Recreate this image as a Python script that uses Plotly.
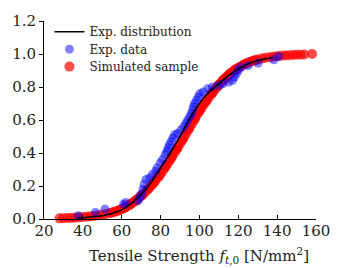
import plotly.graph_objects as go

# Exp. distribution (CDF)
dist_x = [37, 40, 45, 50, 55, 60, 65, 70, 75, 80, 85, 90, 95, 100, 105, 110, 115, 120, 125, 130, 135, 138]
dist_y = [0.005, 0.008, 0.013, 0.02, 0.033, 0.055, 0.095, 0.15, 0.22, 0.31, 0.40, 0.50, 0.61, 0.70, 0.77, 0.82, 0.87, 0.91, 0.94, 0.96, 0.973, 0.978]

# Exp. data (empirical CDF)
exp_x = [37.6, 46.5, 51.4, 61, 62, 68.5, 69.3, 70.2, 70.9, 71.5, 72.5, 74.5, 75.8, 77.5, 78.2, 79.8, 81, 82.3,
         83.2, 83.9, 84.5, 85.5, 86.3, 87.2, 88.8, 90.5, 92, 93, 94, 95, 95.8, 96.5, 96.9, 97.5, 98.5, 99.4,
         100.2, 102, 104.2, 106.7, 110, 112, 115, 117, 118, 119, 120, 121.3, 125, 130.2, 138.3, 140.8]
exp_y = [0.02, 0.04, 0.06, 0.09, 0.10, 0.11, 0.13, 0.15, 0.18, 0.21, 0.24, 0.25, 0.27, 0.29, 0.31, 0.34, 0.36, 0.39,
         0.41, 0.43, 0.45, 0.47, 0.49, 0.51, 0.52, 0.54, 0.56, 0.58, 0.60, 0.62, 0.64, 0.66, 0.68, 0.70, 0.72, 0.74,
         0.76, 0.77, 0.79, 0.80, 0.81, 0.82, 0.83, 0.84, 0.86, 0.88, 0.90, 0.92, 0.93, 0.945, 0.965, 0.985]

# Simulated sample (empirical CDF)
sim_x = [28, 30, 32, 34, 36, 38, 40, 42, 44, 46, 48, 50, 52, 54, 55, 56, 57, 58, 59, 60, 61, 61.5, 62, 63, 64,
         64.5, 65, 66, 67, 67.5, 68, 69, 70, 70.5, 71, 72, 73, 73.5, 74, 75, 76, 76.5, 77, 78, 79, 79.5, 80, 81,
         82, 82.5, 83, 84, 85, 85.5, 86, 87, 88, 88.5, 89, 90, 91, 91.5, 92, 93, 94, 94.5, 95, 96, 97, 97.5, 98,
         99, 100, 100.5, 101, 102, 103, 103.5, 104, 105, 106, 106.5, 107, 108, 109, 109.5, 110, 111, 112, 112.5,
         113, 114, 115, 115.5, 116, 117, 118, 118.5, 119, 120, 121, 122, 123, 124, 125, 126, 127, 128, 129, 130,
         132, 134, 136, 138, 140, 142, 144, 146, 148, 150, 152, 154, 158]
sim_y = [0.004, 0.005, 0.006, 0.007, 0.008, 0.010, 0.012, 0.014, 0.016, 0.019, 0.022, 0.026, 0.030, 0.036, 0.039,
         0.042, 0.046, 0.050, 0.055, 0.060, 0.065, 0.068, 0.072, 0.078, 0.085, 0.090, 0.094, 0.102, 0.110, 0.115,
         0.120, 0.130, 0.140, 0.145, 0.150, 0.162, 0.174, 0.180, 0.186, 0.200, 0.213, 0.220, 0.227, 0.242, 0.257,
         0.265, 0.273, 0.290, 0.307, 0.315, 0.324, 0.342, 0.360, 0.370, 0.379, 0.398, 0.417, 0.427, 0.437, 0.456,
         0.475, 0.485, 0.495, 0.515, 0.535, 0.545, 0.555, 0.575, 0.595, 0.605, 0.615, 0.635, 0.654, 0.663, 0.672,
         0.690, 0.707, 0.715, 0.723, 0.740, 0.756, 0.763, 0.770, 0.785, 0.799, 0.806, 0.813, 0.826, 0.839, 0.845,
         0.851, 0.862, 0.873, 0.878, 0.883, 0.892, 0.901, 0.905, 0.909, 0.917, 0.923, 0.930, 0.936, 0.942, 0.947,
         0.952, 0.956, 0.960, 0.964, 0.967, 0.972, 0.977, 0.981, 0.984, 0.987, 0.989, 0.991, 0.993, 0.994, 0.995,
         0.996, 0.997, 1.0]

x_ticks = [20, 40, 60, 80, 100, 120, 140, 160]
y_ticks = [0.0, 0.2, 0.4, 0.6, 0.8, 1.0, 1.2]

FONT = "DejaVu Serif"
TXT = "#222"

fig = go.Figure()
fig.add_trace(go.Scatter(x=sim_x, y=sim_y, mode="markers", name="Simulated sample", legend="legend3",
                         marker=dict(size=10, color="rgba(255,0,0,0.7)", line=dict(width=0)), cliponaxis=False))
fig.add_trace(go.Scatter(x=exp_x, y=exp_y, mode="markers", name="Exp. data", legend="legend2",
                         marker=dict(size=9, color="rgba(0,0,255,0.5)", line=dict(width=0)), cliponaxis=False))
fig.add_trace(go.Scatter(x=dist_x, y=dist_y, mode="lines", name="Exp. distribution", legend="legend",
                         line=dict(color="black", width=1.5, shape="spline")))

def leg(ypx):
    return dict(x=0.02, y=(219 - (ypx - 5)) / 204, xanchor="left", yanchor="middle", bgcolor="rgba(0,0,0,0)",
                font=dict(size=12, family=FONT, color=TXT), itemwidth=30)

fig.update_layout(
    width=342, height=268,
    margin=dict(l=39, r=16, t=15, b=49),
    paper_bgcolor="white", plot_bgcolor="white",
    font=dict(family=FONT, size=15, color=TXT),
    showlegend=True,
    legend=leg(31), legend2=leg(49), legend3=leg(67),
    xaxis=dict(range=[20, 160], tickvals=x_ticks, ticktext=[str(v) for v in x_ticks],
               showgrid=False, zeroline=False, showline=True, linecolor="black", linewidth=1,
               ticks="inside", ticklen=4, tickcolor="black", ticklabelstandoff=-2,
               tickfont=dict(size=15, family=FONT, color=TXT)),
    yaxis=dict(range=[0, 1.2], tickvals=y_ticks, ticktext=["%.1f" % v for v in y_ticks],
               showgrid=False, zeroline=False, showline=True, linecolor="black", linewidth=1,
               ticks="outside", ticklen=4, tickcolor="black", tickfont=dict(size=15, family=FONT, color=TXT)),
    annotations=[dict(text="Tensile Strength <i>f</i><sub><i>t</i>,0</sub> [N/mm<sup>2</sup>]",
                      xref="paper", yref="paper", x=0.571, y=-0.185, xanchor="center", yanchor="middle",
                      showarrow=False, font=dict(size=15, family=FONT, color=TXT))],
)

fig.write_html("out.html", config={"displayModeBar": False},
               post_script="document.body.style.margin='0';")
